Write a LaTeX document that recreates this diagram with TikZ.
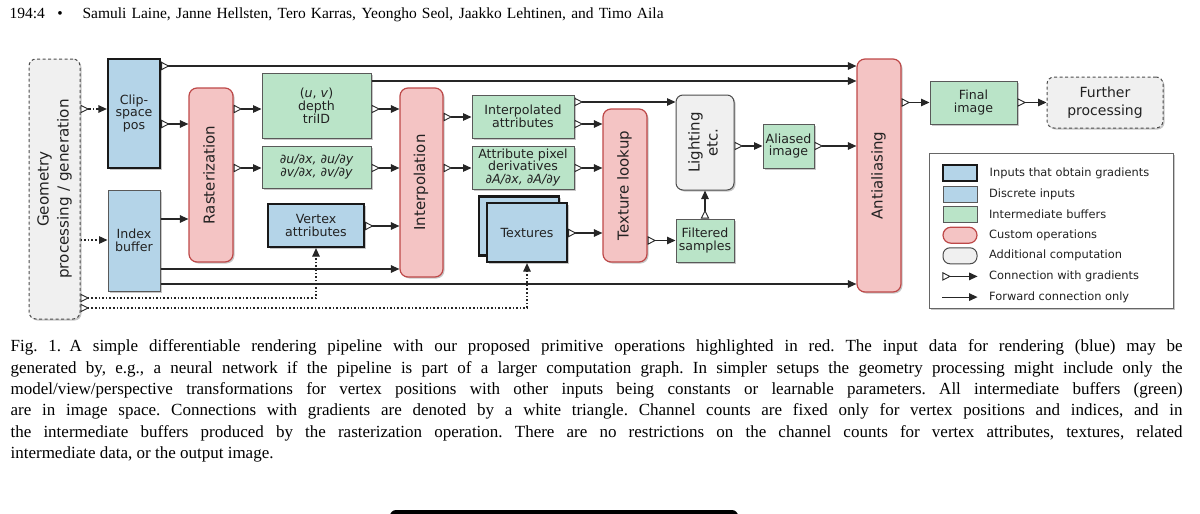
\documentclass[tikz,border=0pt]{standalone}
\usepackage{fontspec}
\setmainfont{Liberation Serif}
\newfontfamily\diagfont{DejaVu Sans}
\usepackage{graphicx}
\usepackage{tikz}
\usetikzlibrary{arrows.meta,positioning,shadows}

\newcommand\boxfont{\diagfont\fontsize{12.6}{12.8}\selectfont}
\newcommand\opfont{\diagfont\fontsize{15}{18}\selectfont}
\newcommand\geomfont{\diagfont\fontsize{15.2}{20}\selectfont}
\newcommand\furtherfont{\diagfont\fontsize{14}{17.7}\selectfont}
\newcommand\keyfont{\diagfont\fontsize{11.4}{13}\selectfont}
\newcommand\headfont{\fontsize{15.5}{18}\selectfont}
\newcommand\capfont{\fontsize{17}{21.4}\selectfont\frenchspacing}
\newcommand\vlabel[1]{\rotatebox{90}{\begin{tabular}{@{}c@{}}#1\end{tabular}}}

\tikzset{
    gtip/.tip={Triangle[open,reversed,length=8.5pt,width=8.5pt,fill=white,line width=0.9pt]},
    ftip/.tip={Triangle[length=8.5pt,width=7.5pt]}
}

\begin{document}
\begin{tikzpicture}[
            x=1pt,y=-1pt,
            line width=1.2pt,
            grad/.style={gtip-ftip,draw=black!85},
            fwd/.style={-ftip,draw=black!85},
            dotline/.style={dash pattern=on 1.6pt off 2pt},
            dashdotline/.style={dash pattern=on 3.5pt off 2pt on 1.2pt off 2pt},
            basebox/.style={inner sep=0pt,align=center,text=txt,font=\boxfont},
            gradbox/.style={basebox,draw=black!90,line width=2.2pt,fill=blx},
            discbox/.style={basebox,draw=black!65,line width=1pt,fill=blx},
            bufbox/.style={basebox,draw=black!65,line width=1pt,fill=grx},
            opbox/.style={basebox,draw=rdr,line width=1.2pt,fill=rex,rounded corners=8pt,font=\opfont},
            extbox/.style={basebox,draw=black!70,line width=1pt,fill=gyx,rounded corners=7pt},
            boxshadow/.style={drop shadow={shadow xshift=1.5pt,shadow yshift=-1.5pt,opacity=0.22,fill=black}}
        ]
            \definecolor{blx}{RGB}{180,212,232}
            \definecolor{grx}{RGB}{186,228,200}
            \definecolor{rex}{RGB}{244,196,196}
            \definecolor{rdr}{RGB}{190,72,72}
            \definecolor{gyx}{RGB}{240,240,240}
            \definecolor{txt}{RGB}{34,34,34}

            \useasboundingbox (0,0) rectangle (1200,514);

            \node [anchor=base west,inner sep=0pt,font=\headfont] (pagenum) at (9,18)  {194:4};
            \node [anchor=base,inner sep=0pt,font=\headfont]      (bullet)  at (60,18) {•};
            \node [anchor=base west,inner sep=0pt,font=\headfont] (authors) at (82,18)
                {\makebox[581pt][s]{Samuli Laine, Janne Hellsten, Tero Karras, Yeongho Seol, Jaakko Lehtinen, and Timo Aila}};

            \begin{scope}[
                every node/.append style={boxshadow}
            ]
                \node (geom)   [extbox,dash pattern=on 3pt off 2.5pt,minimum width=51pt,minimum height=260pt,font=\geomfont] at (54.5,189) {\vlabel{Geometry\\processing / generation}};
                \node (clip)   [gradbox,minimum width=52pt,minimum height=109pt]  at (134,113.5)  {Clip-\\space\\pos};
                \node (idx)    [discbox,minimum width=52pt,minimum height=101pt]  at (134,240.5)  {Index\\buffer};
                \node (rast)   [opbox,minimum width=44pt,minimum height=174pt]    at (211,175)    {\vlabel{Rasterization}};
                \node (uvd)    [bufbox,minimum width=109pt,minimum height=65pt]   at (316.5,105.5) {(\textit{u}, \textit{v})\\depth\\triID};
                \node (duv)    [bufbox,minimum width=109pt,minimum height=42pt,font=\boxfont\itshape] at (316.5,167) {∂u/∂x, ∂u/∂y\\∂v/∂x, ∂v/∂y};
                \node (vattr)  [gradbox,minimum width=96pt,minimum height=43pt]   at (316,225.5)  {Vertex\\attributes};
                \node (interp) [opbox,minimum width=43pt,minimum height=189pt]    at (421.5,182.5) {\vlabel{Interpolation}};
                \node (iattr)  [bufbox,minimum width=102pt,minimum height=43pt]   at (523,116.5)  {Interpolated\\attributes};
                \node (aderiv) [bufbox,minimum width=102pt,minimum height=43pt]   at (523,167.5)  {Attribute pixel\\derivatives\\\textit{∂A/∂x, ∂A/∂y}};
                \node (texb)   [gradbox,minimum width=80pt,minimum height=59pt]   at (519,226)    {};
                \node (tex)    [gradbox,minimum width=80pt,minimum height=59pt]   at (527,232.5)  {Textures};
                \node (tlook)  [opbox,minimum width=44pt,minimum height=153pt]    at (625,185.5)  {\vlabel{Texture lookup}};
                \node (light)  [extbox,minimum width=58pt,minimum height=95pt,font=\opfont] at (705,142.5) {\vlabel{Lighting\\etc.}};
                \node (filt)   [bufbox,minimum width=58pt,minimum height=43pt]    at (705,240.5)  {Filtered\\samples};
                \node (alias)  [bufbox,minimum width=51pt,minimum height=44pt]    at (788.5,146)  {Aliased\\image};
                \node (aa)     [opbox,minimum width=44pt,minimum height=233pt]    at (879,175.5)  {\vlabel{Antialiasing}};
                \node (final)  [bufbox,minimum width=87pt,minimum height=43pt]    at (973.5,102.5) {Final\\image};
                \node (further) [extbox,dash pattern=on 3pt off 2.5pt,minimum width=116pt,minimum height=51pt,font=\furtherfont] at (1105,102.5) {Further\\processing};
                \node (key)    [draw=black!60,line width=1pt,fill=white,minimum width=244pt,minimum height=155pt] at (1051,230.5) {};
            \end{scope}

            \begin{scope}[
                node distance=3.5pt,
                every node/.style={minimum width=34pt,minimum height=16pt}
            ]
                \node (k1) [gradbox]               at (960,173) {};
                \node (k2) [discbox,below=of k1]   {};
                \node (k3) [bufbox,below=of k2]    {};
                \node (k4) [opbox,below=of k3]     {};
                \node (k5) [extbox,below=of k4]    {};
                \node (k6) [inner sep=0pt,below=of k5] {};
                \node (k7) [inner sep=0pt,below=of k6] {};
            \end{scope}
            \begin{scope}[
                node distance=11pt,
                every node/.style={inner sep=0pt,font=\keyfont,text=txt}
            ]
                \node (t1) [right=of k1] {Inputs that obtain gradients};
                \node (t2) [right=of k2] {Discrete inputs};
                \node (t3) [right=of k3] {Intermediate buffers};
                \node (t4) [right=of k4] {Custom operations};
                \node (t5) [right=of k5] {Additional computation};
                \node (t6) [right=of k6] {Connection with gradients};
                \node (t7) [right=of k7] {Forward connection only};
            \end{scope}
            \draw [grad] (k6.west) -- (k6.east);
            \draw [fwd]  (k7.west) -- (k7.east);

            \draw [grad,dashdotline] (geom.east |- 0,109)   -- (clip.west |- 0,109);
            \draw [fwd,dotline]      (geom.east |- 0,240)   -- (idx.west |- 0,240);
            \draw [grad]             (clip.east |- 0,66)    -- (aa.west |- 0,66);
            \draw [grad]             (clip.east |- 0,124)   -- (rast.west |- 0,124);
            \draw [fwd]              (idx.east |- 0,219)    -- (rast.west |- 0,219);
            \draw [fwd]              (idx.east |- 0,269)    -- (interp.west |- 0,269);
            \draw [fwd]              (idx.east |- 0,284)    -- (aa.west |- 0,284);
            \draw [grad]             (rast.east |- 0,109)   -- (uvd.west |- 0,109);
            \draw [grad]             (rast.east |- 0,168)   -- (duv.west |- 0,168);
            \draw [fwd]              (uvd.east |- 0,81)     -- (aa.west |- 0,81);
            \draw [grad]             (uvd.east |- 0,109)    -- (interp.west |- 0,109);
            \draw [grad]             (duv.east |- 0,168)    -- (interp.west |- 0,168);
            \draw [grad]             (vattr.east |- 0,226)  -- (interp.west |- 0,226);
            \draw [grad]             (interp.east |- 0,117) -- (iattr.west |- 0,117);
            \draw [grad]             (interp.east |- 0,168) -- (aderiv.west |- 0,168);
            \draw [grad]             (iattr.east |- 0,102)  -- (light.west |- 0,102);
            \draw [grad]             (iattr.east |- 0,124)  -- (tlook.west |- 0,124);
            \draw [grad]             (aderiv.east |- 0,168) -- (tlook.west |- 0,168);
            \draw [grad]             (tex.east |- 0,233)    -- (tlook.west |- 0,233);
            \draw [grad]             (tlook.east |- filt.west) -- (filt.west);
            \draw [grad]             (filt.north)           -- (light.south);
            \draw [grad]             (light.east |- 0,146)  -- (alias.west |- 0,146);
            \draw [grad]             (alias.east)           -- (aa.west |- alias.east);
            \draw [grad]             (aa.east |- final.west) -- (final.west);
            \draw [grad]             (final.east)           -- (further.west);
            \draw [grad,dotline]     (geom.east |- 0,298)   -| (vattr.south);
            \draw [grad,dotline]     (geom.east |- 0,308)   -| (tex.south);

            \node (cap1) [anchor=base west,inner sep=0pt,font=\capfont] at (10,351.7)
                {\makebox[1172pt][s]{Fig. 1.\enspace A simple differentiable rendering pipeline with our proposed primitive operations highlighted in red. The input data for rendering (blue) may be}};
            \node (cap2) [anchor=base west,inner sep=0pt,font=\capfont] at ([yshift=-21.4pt]cap1.base west)
                {\makebox[1172pt][s]{generated by, e.g., a neural network if the pipeline is part of a larger computation graph. In simpler setups the geometry processing might include only the}};
            \node (cap3) [anchor=base west,inner sep=0pt,font=\capfont] at ([yshift=-21.4pt]cap2.base west)
                {\makebox[1172pt][s]{model/view/perspective transformations for vertex positions with other inputs being constants or learnable parameters. All intermediate buffers (green)}};
            \node (cap4) [anchor=base west,inner sep=0pt,font=\capfont] at ([yshift=-21.4pt]cap3.base west)
                {\makebox[1172pt][s]{are in image space. Connections with gradients are denoted by a white triangle. Channel counts are fixed only for vertex positions and indices, and in}};
            \node (cap5) [anchor=base west,inner sep=0pt,font=\capfont] at ([yshift=-21.4pt]cap4.base west)
                {\makebox[1172pt][s]{the intermediate buffers produced by the rasterization operation. There are no restrictions on the channel counts for vertex attributes, textures, related}};
            \node (cap6) [anchor=base west,inner sep=0pt,font=\capfont] at ([yshift=-21.4pt]cap5.base west)
                {intermediate data, or the output image.};

            \fill [black,rounded corners=6pt] (390,510) rectangle (738,530);
        \end{tikzpicture}
\end{document}
